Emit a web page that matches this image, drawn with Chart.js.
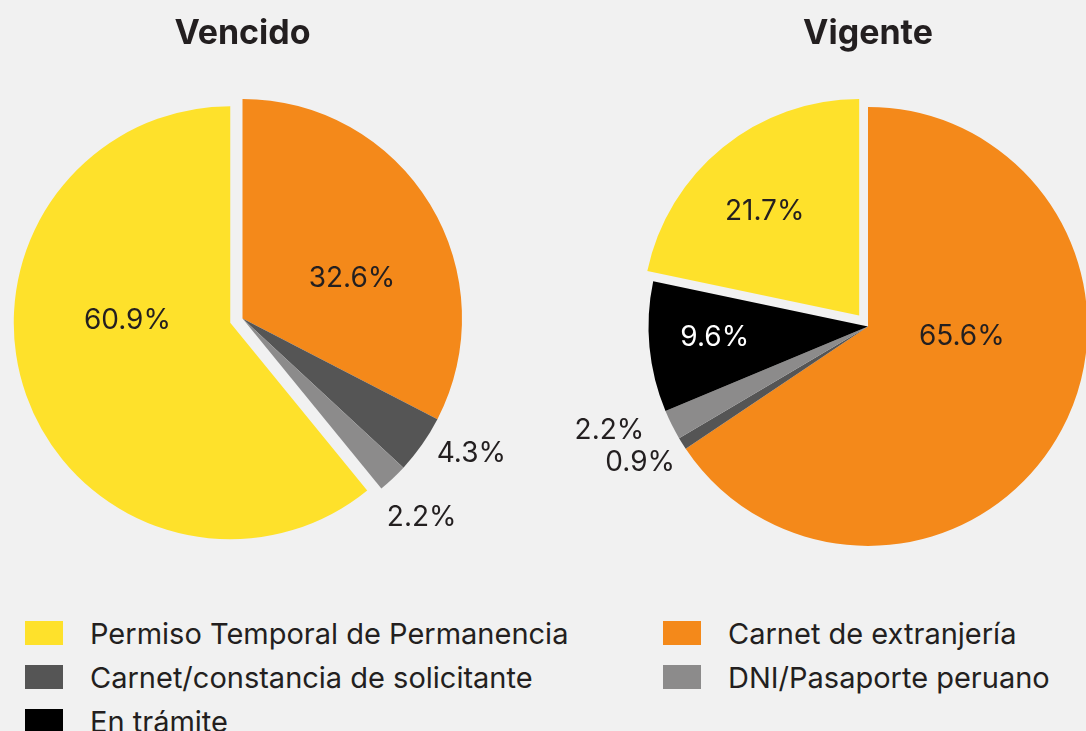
<!DOCTYPE html>
<html>
<head>
<meta charset="utf-8">
<script src="https://cdn.jsdelivr.net/npm/chart.js@4.4.1/dist/chart.umd.min.js"></script>
<style>
  html, body { margin: 0; padding: 0; }
  body { width: 1086px; height: 731px; overflow: hidden; position: relative; background: #f1f1f1; font-family: Inter, "Noto Sans", sans-serif; }
  #vencido { position: absolute; left: -35px; top: 0; }
  #vigente { position: absolute; left: 560px; top: 0; }
  .legend { position: absolute; left: 25px; top: 621px; display: grid; grid-template-columns: 638px auto; grid-auto-rows: 44px; }
  .legend .item { display: flex; align-items: center; height: 24px; font-size: 29px; color: #231f20; white-space: nowrap; }
  .legend .box { width: 38px; height: 24px; margin-right: 27px; flex: none; }
</style>
</head>
<body>
<canvas id="vencido" width="555" height="583"></canvas>
<canvas id="vigente" width="616" height="599"></canvas>
<div class="legend" id="legend"></div>
<script>
// DATA
const categories = ['Permiso Temporal de Permanencia', 'Carnet de extranjería', 'Carnet/constancia de solicitante', 'DNI/Pasaporte peruano', 'En trámite'];
const categoryColors = ['#fee12b', '#f4891a', '#555555', '#8c8b8b', '#000000'];

const vencidoLabels = ['Carnet de extranjería', 'Carnet/constancia de solicitante', 'DNI/Pasaporte peruano', 'Permiso Temporal de Permanencia'];
const vencidoValues = [32.6, 4.3, 2.2, 60.9];

const vigenteLabels = ['Carnet de extranjería', 'Carnet/constancia de solicitante', 'DNI/Pasaporte peruano', 'En trámite', 'Permiso Temporal de Permanencia'];
const vigenteValues = [65.6, 0.9, 2.2, 9.6, 21.7];

Chart.defaults.font.family = 'Inter';

function colorOf(label) {
	return categoryColors[categories.indexOf(label)];
}

// pull one slice out along its bisector
const explodePlugin = {
	id: 'explode',
	afterDatasetsUpdate(chart, args, opts) {
		const arc = chart.getDatasetMeta(0).data[opts.index];
		if (!arc) return;
		const mid = (arc.startAngle + arc.endAngle) / 2;
		arc.x += Math.cos(mid) * opts.distance;
		arc.y += Math.sin(mid) * opts.distance;
		arc.outerRadius -= opts.shrink;
	}
};

// percent labels, placed as [fraction of radius, angle shift in degrees]
const sliceLabels = {
	id: 'sliceLabels',
	afterDatasetsDraw(chart, args, opts) {
		const ctx = chart.ctx;
		const meta = chart.getDatasetMeta(0);
		const values = chart.data.datasets[0].data;
		ctx.save();
		ctx.font = '400 28px Inter';
		ctx.textAlign = 'center';
		ctx.textBaseline = 'middle';
		meta.data.forEach((arc, i) => {
			const p = opts.place[i];
			const a = (arc.startAngle + arc.endAngle) / 2 + p[1] * Math.PI / 180;
			const r = arc.outerRadius * p[0];
			ctx.fillStyle = opts.colors[i];
			ctx.fillText(values[i].toFixed(1) + '%', arc.x + Math.cos(a) * r, arc.y + Math.sin(a) * r);
		});
		ctx.restore();
	}
};

function pieChart(id, title, labels, values, place, textColors, explode) {
	return new Chart(document.getElementById(id), {
		type: 'pie',
		data: {
			labels: labels,
			datasets: [{
				data: values,
				backgroundColor: labels.map(colorOf),
				borderWidth: 0
			}]
		},
		options: {
			responsive: false,
			animation: false,
			radius: 219.5,
			layout: { padding: 0 },
			plugins: {
				legend: { display: false },
				tooltip: { enabled: false },
				title: {
					display: true,
					text: title,
					color: '#231f20',
					font: { size: 34, weight: 'bold' },
					padding: { top: 13, bottom: 0 }
				},
				explode: explode,
				sliceLabels: { place: place, colors: textColors }
			}
		},
		plugins: [explodePlugin, sliceLabels]
	});
}

pieChart('vencido', 'Vencido', vencidoLabels, vencidoValues,
	[[0.53, 11.5], [1.21, -4.6], [1.22, 1.2], [0.475, 21]],
	['#231f20', '#231f20', '#231f20', '#231f20'],
	{ index: 3, distance: 13, shrink: 3 });

pieChart('vigente', 'Vigente', vigenteLabels, vigenteValues,
	[[0.43, -21.7], [1.21, 1.3], [1.27, 4.7], [0.70, 1.1], [0.65, -3.1]],
	['#231f20', '#231f20', '#231f20', '#ffffff', '#231f20'],
	{ index: 4, distance: 14, shrink: 3 });

// LEGEND (two columns, filled row by row)
const legendOrder = [0, 1, 2, 3, 4];
const legendEl = document.getElementById('legend');
legendOrder.forEach(i => {
	const item = document.createElement('div');
	item.className = 'item';
	item.innerHTML = `<span class="box" style="background:${categoryColors[i]}"></span><span>${categories[i]}</span>`;
	legendEl.appendChild(item);
});
</script>
</body>
</html>
